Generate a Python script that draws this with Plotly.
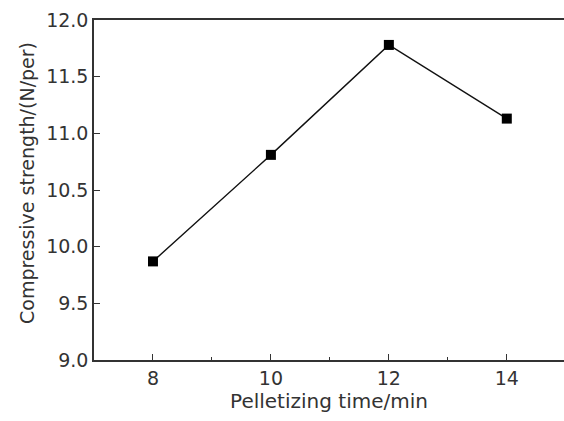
import plotly.graph_objects as go

times = [8, 10, 12, 14]
strength = [9.87, 10.81, 11.78, 11.13]
x_ticks = [8, 10, 12, 14]
y_ticks = [9.0, 9.5, 10.0, 10.5, 11.0, 11.5, 12.0]
y_tick_labels = ["9.0", "9.5", "10.0", "10.5", "11.0", "11.5", "12.0"]
y_title = "Compressive strength/(N/per)"
x_title = "Pelletizing time/min"

fig = go.Figure()
fig.add_trace(go.Scatter(
    x=times, y=strength, mode="lines+markers",
    line=dict(color="#111111", width=1.4),
    marker=dict(symbol="square", size=10, color="#000000"),
    showlegend=False,
))

FAM = "DejaVu Sans, Liberation Sans, sans-serif"
tick_font = dict(family=FAM, size=19, color="#333333")
xtitle_font = dict(family=FAM, size=20, color="#333333")
ytitle_font = dict(family=FAM, size=19, color="#333333")

L, R, T, B, W, H = 94, 0, 20, 61, 564, 421
pw, ph = W - L - R, H - T - B

fig.update_layout(
    width=W, height=H,
    margin=dict(l=L, r=R, t=T, b=B),
    paper_bgcolor="white", plot_bgcolor="white",
    xaxis=dict(
        range=[7, 14.97], tickvals=x_ticks, ticktext=[str(v) for v in x_ticks],
        showline=True, linecolor="#333333", linewidth=1.5, mirror=True,
        ticks="inside", ticklen=6, tickwidth=1.3, tickcolor="#333333",
        minor=dict(dtick=1, tick0=7, ticks="inside", ticklen=3, tickwidth=1.2, tickcolor="#333333"),
        showgrid=False, zeroline=False, tickfont=tick_font, automargin=False,
        title=dict(text=x_title, font=xtitle_font, standoff=2),
    ),
    yaxis=dict(
        range=[9.0, 12.0], tickvals=y_ticks, ticktext=y_tick_labels,
        showline=True, linecolor="#333333", linewidth=1.5,
        ticks="inside", ticklen=6, tickwidth=1.3, tickcolor="#333333",
        showgrid=False, zeroline=False, tickfont=tick_font, automargin=False,
    ),
    annotations=[dict(
        text=y_title, textangle=-90, showarrow=False,
        xref="paper", yref="paper",
        x=(27 - L) / pw, y=(H - B - 183) / ph,
        xanchor="center", yanchor="middle", font=ytitle_font,
    )],
)

fig.write_html(
    "out.html",
    config={"displayModeBar": False},
    post_script="document.body.style.margin='0';document.body.style.overflow='hidden';",
)
